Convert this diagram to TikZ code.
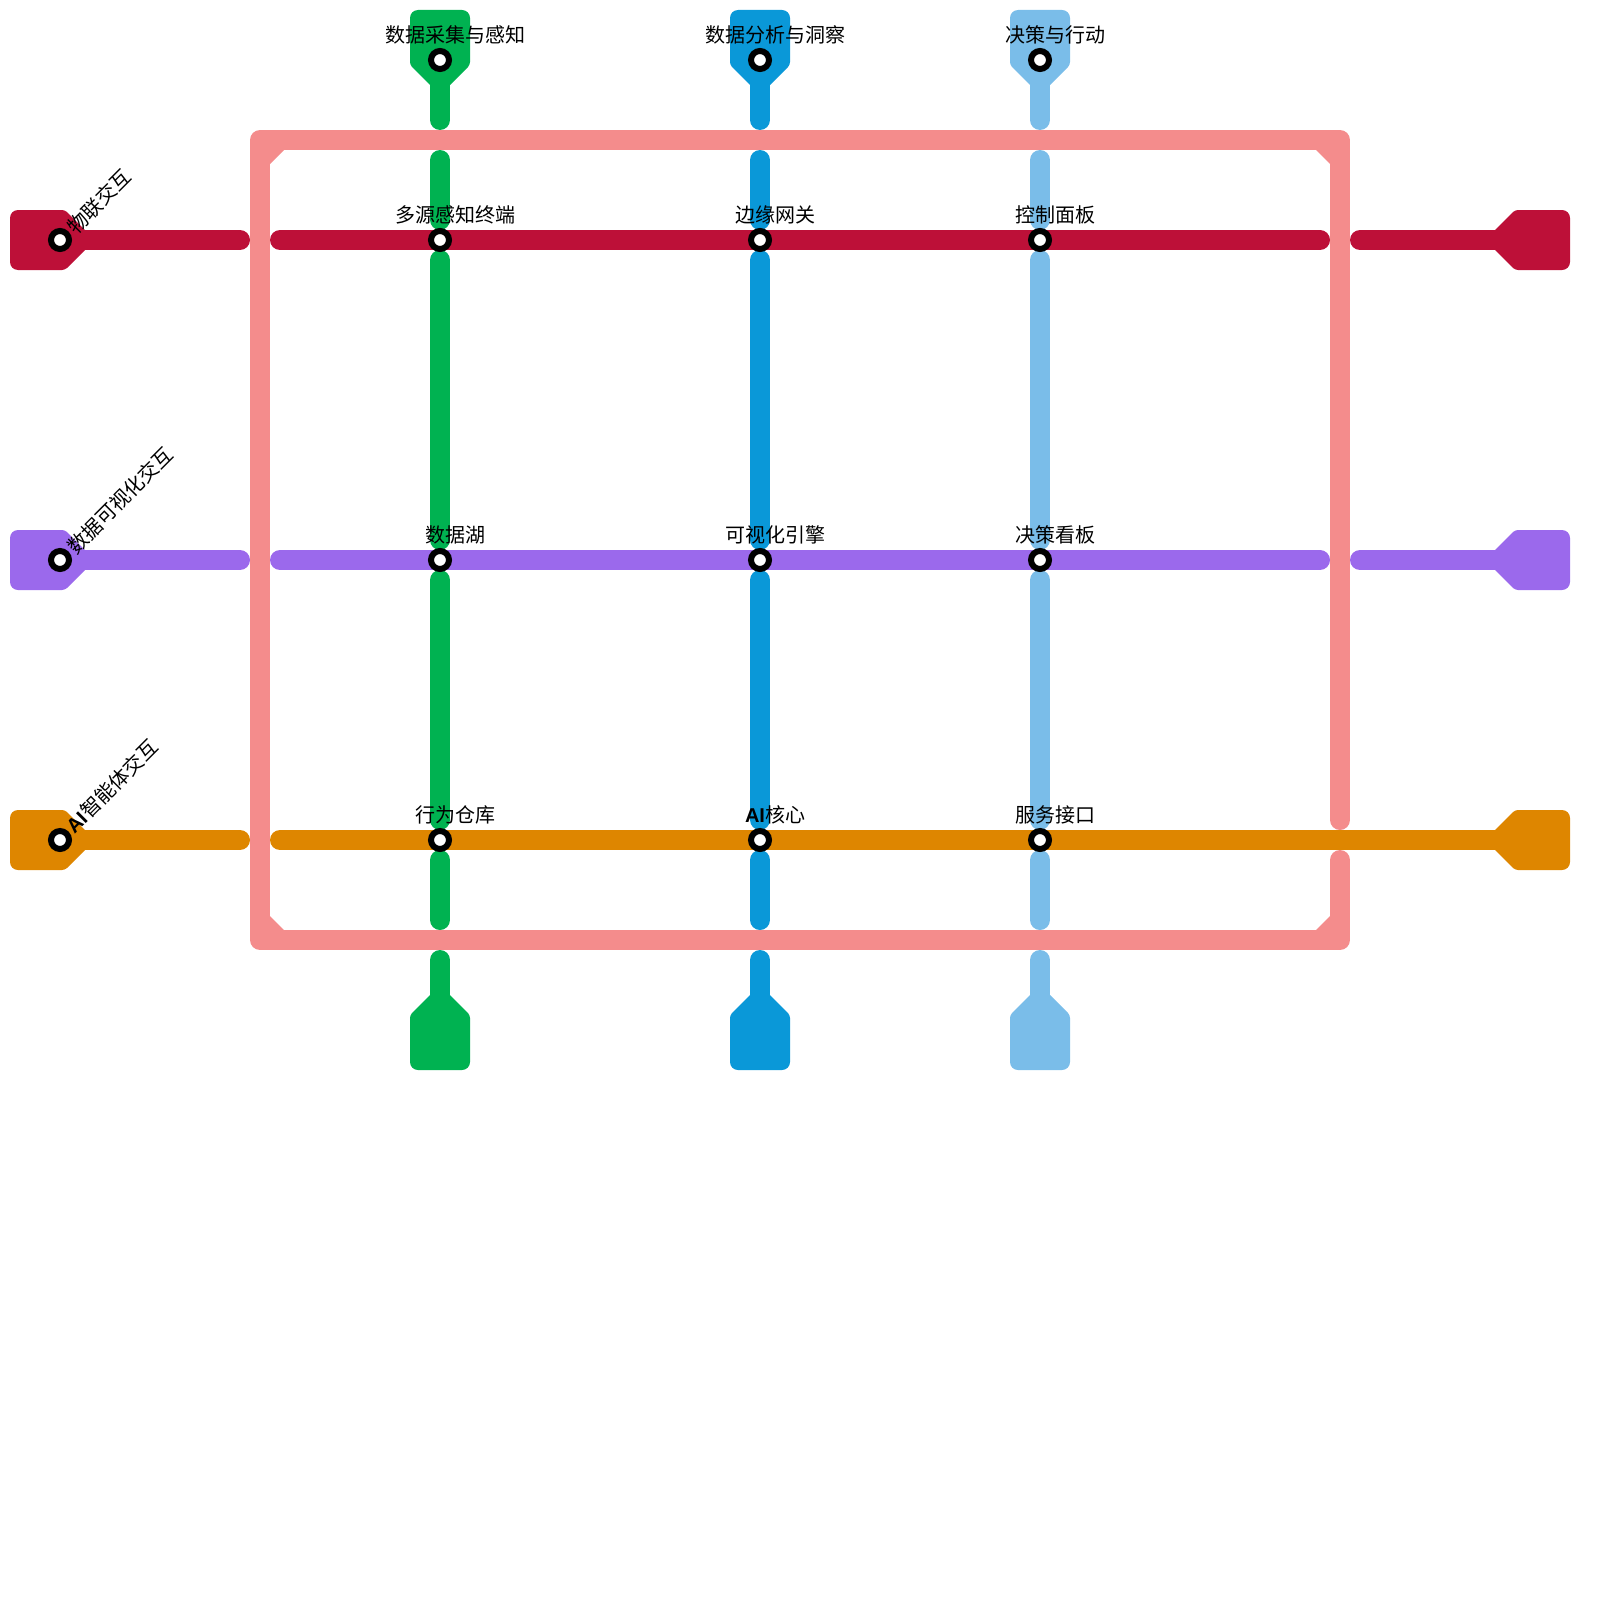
\documentclass[tikz,border=0pt]{standalone}
\usepackage{fontspec}
\setmainfont{Noto Sans CJK SC}
\newfontfamily\aifont{Liberation Sans}
\definecolor{lineRed}{HTML}{BD1038}
\definecolor{lineViolet}{HTML}{9B69EC}
\definecolor{lineOrange}{HTML}{DE8600}
\definecolor{lineGreen}{HTML}{00B251}
\definecolor{lineBlue}{HTML}{0A98D8}
\definecolor{lineSky}{HTML}{7ABDE9}
\definecolor{linePink}{HTML}{F48C8C}
\newcommand{\aitext}{{\aifont\bfseries AI}}
\tikzset{
    metro/.style={line width=20pt, line cap=round, line join=round, draw=#1},
    station/.style={circle, draw=black, fill=white, line width=6pt, minimum size=18pt, inner sep=0pt},
    stationtext/.style={font=\fontsize{20}{24}\selectfont, text=black, inner sep=0pt},
    linetext/.style={stationtext, anchor=west, rotate=45},
    terminal/.pic={
        \fill[#1] (25,10) [rounded corners=3pt] -- (5,30) [rounded corners=8pt] -- (-50,30) -- (-50,-30) [rounded corners=3pt] -- (5,-30) -- (25,-10);
    },
}
\begin{document}
\begin{tikzpicture}[x=1pt, y=-1pt]
    \useasboundingbox (0,0) rectangle (1600,1600);
    % ring
    \coordinate (ringA) at (1340,820);
    \coordinate (ringB) at (1340,140);
    \coordinate (ringC) at (260,140);
    \coordinate (ringD) at (260,940);
    \coordinate (ringE) at (1340,940);
    \coordinate (ringF) at (1340,860);
    \draw[metro=linePink] (ringA) -- (ringB) -- (ringC) -- (ringD) -- (ringE) -- (ringF);
    \fill[linePink] (270,150) -- (284,150) -- (270,164) -- cycle;
    \fill[linePink] (1330,150) -- (1316,150) -- (1330,164) -- cycle;
    \fill[linePink] (270,930) -- (284,930) -- (270,916) -- cycle;
    \fill[linePink] (1330,930) -- (1316,930) -- (1330,916) -- cycle;
    % columns
    \foreach \col/\x/\c in {g/440/lineGreen, b/760/lineBlue, s/1040/lineSky} {
        \pic[rotate=-90] at (\x,60) {terminal=\c};
        \pic[rotate=90] at (\x,1020) {terminal=\c};
        \foreach \i/\ya/\yb in {1/60/120, 2/160/220, 3/260/540, 4/580/820, 5/860/920, 6/960/1020} {
            \coordinate (\col\i a) at (\x,\ya);
            \coordinate (\col\i b) at (\x,\yb);
            \draw[metro=\c] (\col\i a) -- (\col\i b);
        }
    }
    % rows
    \foreach \row/\y/\c in {r/240/lineRed, v/560/lineViolet} {
        \pic at (60,\y) {terminal=\c};
        \pic[rotate=180] at (1520,\y) {terminal=\c};
        \foreach \i/\xa/\xb in {1/60/240, 2/280/1320, 3/1360/1520} {
            \coordinate (\row\i a) at (\xa,\y);
            \coordinate (\row\i b) at (\xb,\y);
            \draw[metro=\c] (\row\i a) -- (\row\i b);
        }
    }
    \pic at (60,840) {terminal=lineOrange};
    \pic[rotate=180] at (1520,840) {terminal=lineOrange};
    \foreach \i/\xa/\xb in {1/60/240, 2/280/1520} {
        \coordinate (o\i a) at (\xa,840);
        \coordinate (o\i b) at (\xb,840);
        \draw[metro=lineOrange] (o\i a) -- (o\i b);
    }
    % stations
    \foreach \name/\x/\y in {gtop/440/60, btop/760/60, stop/1040/60,
                             rstart/60/240, vstart/60/560, ostart/60/840,
                             gr/440/240, br/760/240, sr/1040/240,
                             gv/440/560, bv/760/560, sv/1040/560,
                             go/440/840, bo/760/840, so/1040/840} {
        \node[station] (\name) at (\x,\y) {};
    }
    % labels
    \foreach \name/\txt in {gtop/数据采集与感知, btop/数据分析与洞察, stop/决策与行动,
                            gr/多源感知终端, br/边缘网关, sr/控制面板,
                            gv/数据湖, bv/可视化引擎, sv/决策看板,
                            go/行为仓库, bo/\aitext 核心, so/服务接口} {
        \node[stationtext] (\name text) at ([shift={(15,-25.5)}]\name) {\txt};
    }
    \node[linetext] (rstart text) at ([shift={(10.5,-10)}]rstart) {物联交互};
    \node[linetext] (vstart text) at ([shift={(10.5,-10)}]vstart) {数据可视化交互};
    \node[linetext] (ostart text) at ([shift={(9,-11)}]ostart) {\aitext\kern1pt 智能体交互};
\end{tikzpicture}
\end{document}
